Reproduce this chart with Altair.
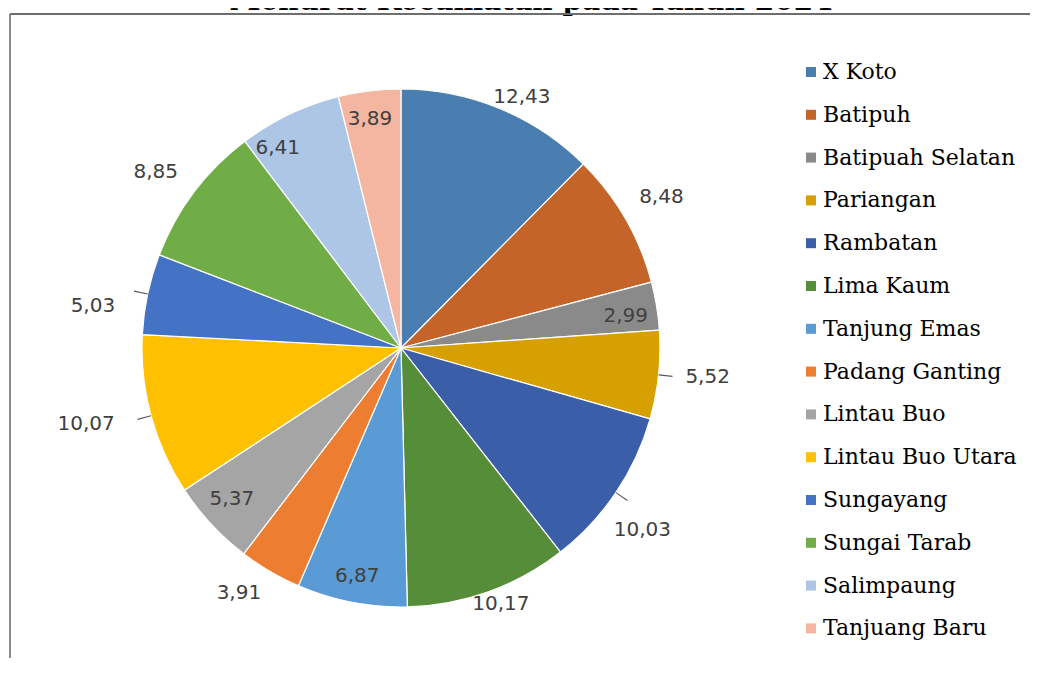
import altair as alt
import pandas as pd
import math

districts = ["X Koto", "Batipuh", "Batipuah Selatan", "Pariangan", "Rambatan",
             "Lima Kaum", "Tanjung Emas", "Padang Ganting", "Lintau Buo",
             "Lintau Buo Utara", "Sungayang", "Sungai Tarab", "Salimpaung",
             "Tanjuang Baru"]
values = [12.43, 8.48, 2.99, 5.52, 10.03, 10.17, 6.87, 3.91, 5.37, 10.07,
          5.03, 8.85, 6.41, 3.89]
colors = ["#4a7eb1", "#c46428", "#8a8a8a", "#d6a000", "#3a5ea8", "#558d38",
          "#5b9bd5", "#ed7d31", "#a5a5a5", "#ffc000", "#4472c4", "#70ad47",
          "#adc6e6", "#f4b6a0"]
title_text = "Menurut Kecamatan pada Tahun 2024"

# label layout: distance from centre (px) and angular nudge (deg) from slice middle
label_radius = [279, 301, 227, 308, 302, 275, 232, 294, 227, 324, 311, 302, 235, 231]
label_nudge = [3.3, -0.1, 1.2, -0.6, 3.0, -1.6, -0.1, 3.1, 1.1, 1.5, -4.2, -1.3, -6.1, -0.7]
has_leader = [False, False, False, True, True, False, False, False, False,
              True, True, False, False, False]

CX, CY, R = 393, 340, 259
W, H = 1022, 650

total = sum(values)
starts, ends, mids = [], [], []
cum = 0.0
for v in values:
    a0 = cum / total * 2 * math.pi
    cum += v
    a1 = cum / total * 2 * math.pi
    starts.append(a0)
    ends.append(a1)
    mids.append((a0 + a1) / 2)

df = pd.DataFrame({
    "district": districts,
    "value": values,
    "t0": starts,
    "t1": ends,
    "tm": [m + math.radians(n) for m, n in zip(mids, label_nudge)],
    "label": [f"{v:.2f}".replace(".", ",") for v in values],
    "lr": label_radius,
})

lead_df = pd.DataFrame([
    {"district": d, "a": m - 0.002, "b": m + 0.002}
    for d, m, lead in zip(districts, mids, has_leader) if lead
])

color_scale = alt.Scale(domain=districts, range=colors)

base = alt.Chart(df)

pie = base.mark_arc(outerRadius=R, stroke="white", strokeWidth=1.2).encode(
    theta=alt.Theta("t0:Q", scale=None),
    theta2="t1:Q",
    color=alt.Color(
        "district:N", scale=color_scale, sort=districts,
        legend=alt.Legend(
            title=None, orient="none", legendX=792, legendY=53,
            symbolType="square", symbolSize=100, symbolStrokeWidth=0,
            labelFont="DejaVu Serif", labelFontSize=22, labelColor="#000000",
            rowPadding=20.8, labelOffset=1, labelLimit=400,
        ),
    ),
    tooltip=["district:N", "value:Q"],
    x=alt.value(CX), y=alt.value(CY),
)

labels = base.mark_text(font="DejaVu Sans", fontSize=20, color="#404040").encode(
    theta=alt.Theta("tm:Q", scale=None),
    radius=alt.Radius("lr:Q", scale=None),
    text="label:N",
    x=alt.value(CX), y=alt.value(CY),
)

leaders = alt.Chart(lead_df).mark_arc(
    innerRadius=R, outerRadius=R + 14, color="#595959"
).encode(
    theta=alt.Theta("a:Q", scale=None),
    theta2="b:Q",
    x=alt.value(CX), y=alt.value(CY),
)

tdf = pd.DataFrame({"t": [title_text]})
title = alt.Chart(tdf).mark_text(
    font="DejaVu Serif", fontSize=28, fontWeight="bold", color="#000000",
    baseline="alphabetic", align="center"
).encode(text="t:N", x=alt.value(523), y=alt.value(2))

frame_left = alt.Chart(tdf).mark_rule(color="#8c8c8c", strokeWidth=2).encode(
    x=alt.value(2), y=alt.value(6), y2=alt.value(H))
frame_top = alt.Chart(tdf).mark_rule(color="#6e6e6e", strokeWidth=2).encode(
    x=alt.value(2), x2=alt.value(W), y=alt.value(6))

chart = alt.layer(pie, labels, leaders, title, frame_left, frame_top).properties(
    width=W, height=H, padding=0,
    autosize=alt.AutoSizeParams(type="none"),
).configure_view(stroke=None)

chart.save("out.html", embed_options={"renderer": "svg", "actions": False})
